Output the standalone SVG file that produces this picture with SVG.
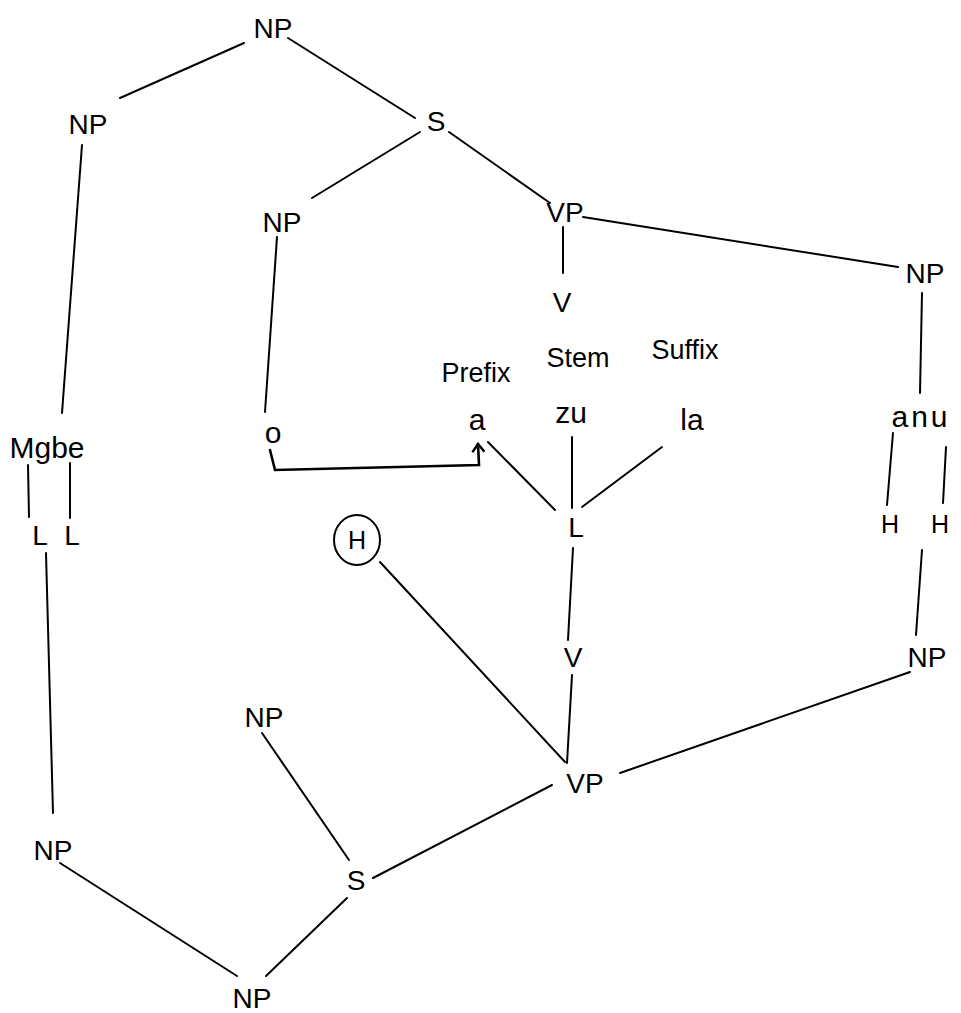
<svg xmlns="http://www.w3.org/2000/svg" width="961" height="1013" viewBox="0 0 961 1013">
<style>
.t{font-family:"Liberation Sans",Arial,sans-serif;font-size:28px;fill:#000;text-anchor:middle}
.m{font-size:25px}
.p{font-size:27px}
.w{font-size:30px}
.e{stroke:#000;stroke-width:2;fill:none;stroke-linecap:round}
.b{stroke-width:2.6}
</style>
<defs>
<marker id="arr" markerWidth="14" markerHeight="14" refX="10" refY="7" orient="auto" markerUnits="userSpaceOnUse">
<path d="M2,1 L10,7 L2,13" fill="none" stroke="#000" stroke-width="2.4"/>
</marker>
</defs>
<rect width="961" height="1013" fill="#fff"/>
<g id="connectors">
<line class="e" x1="244" y1="43" x2="120" y2="98"/>
<line class="e" x1="288" y1="38" x2="415" y2="118"/>
<line class="e" x1="420" y1="132" x2="312" y2="198"/>
<line class="e" x1="449" y1="132" x2="550" y2="203"/>
<line class="e" x1="82" y1="145" x2="62" y2="413"/>
<line class="e" x1="277" y1="237" x2="265" y2="412"/>
<line class="e" x1="563" y1="227" x2="563" y2="273"/>
<line class="e" x1="583" y1="217" x2="898" y2="267"/>
<line class="e" x1="922" y1="293" x2="920" y2="393"/>
<path class="e b" d="M270,450 L275,470 L479,465 L478,444" marker-end="url(#arr)"/>
<line class="e" x1="488" y1="442" x2="555" y2="510"/>
<line class="e" x1="572" y1="437" x2="572" y2="508"/>
<line class="e" x1="662" y1="447" x2="582" y2="507"/>
<line class="e" x1="893" y1="433" x2="887" y2="505"/>
<line class="e" x1="946" y1="447" x2="943" y2="503"/>
<line class="e" x1="28" y1="465" x2="29" y2="517"/>
<line class="e" x1="70" y1="463" x2="70" y2="518"/>
<line class="e" x1="46" y1="553" x2="53" y2="813"/>
<line class="e" x1="573" y1="548" x2="568" y2="640"/>
<line class="e" x1="572" y1="675" x2="567" y2="763"/>
<line class="e" x1="380" y1="562" x2="565" y2="762"/>
<line class="e" x1="620" y1="773" x2="910" y2="672"/>
<line class="e" x1="916" y1="635" x2="922" y2="550"/>
<line class="e" x1="552" y1="785" x2="373" y2="878"/>
<line class="e" x1="349" y1="860" x2="262" y2="733"/>
<line class="e" x1="347" y1="898" x2="266" y2="976"/>
<line class="e" x1="60" y1="863" x2="237" y2="976"/>
</g>
<g id="np-top"><text class="t" x="273" y="38">NP</text></g>
<g id="np-left"><text class="t" x="88" y="134">NP</text></g>
<g id="s-top"><text class="t" x="436" y="131">S</text></g>
<g id="np-mid"><text class="t" x="282" y="232">NP</text></g>
<g id="vp-top"><text class="t" x="565" y="222">VP</text></g>
<g id="v-top"><text class="t" x="562" y="312">V</text></g>
<g id="np-right"><text class="t" x="925" y="283">NP</text></g>
<g id="prefix"><text class="t p" x="476" y="382">Prefix</text></g>
<g id="stem"><text class="t p" x="578" y="367">Stem</text></g>
<g id="suffix"><text class="t p" x="685" y="359">Suffix</text></g>
<g id="a"><text class="t w" x="477" y="430">a</text></g>
<g id="zu"><text class="t w" x="571" y="423">zu</text></g>
<g id="la"><text class="t w" x="692" y="430">la</text></g>
<g id="o"><text class="t w" x="273" y="443">o</text></g>
<g id="mgbe"><text class="t w" x="47" y="458">Mgbe</text></g>
<g id="mgbe-l1"><text class="t" x="40" y="545">L</text></g>
<g id="mgbe-l2"><text class="t" x="72" y="545">L</text></g>
<g id="anu"><text class="t w" x="921" y="427" letter-spacing="3">anu</text></g>
<g id="anu-h1"><text class="t m" x="890" y="533">H</text></g>
<g id="anu-h2"><text class="t m" x="940" y="533">H</text></g>
<g id="l-mid"><text class="t" x="576" y="537">L</text></g>
<g id="h-circled"><ellipse cx="357" cy="540" rx="23" ry="25" class="e"/><text class="t m" x="357" y="549">H</text></g>
<g id="v-mid"><text class="t" x="573" y="667">V</text></g>
<g id="np-right-bottom"><text class="t" x="927" y="667">NP</text></g>
<g id="vp-bottom"><text class="t" x="585" y="793">VP</text></g>
<g id="np-upper"><text class="t" x="264" y="727">NP</text></g>
<g id="s-bottom"><text class="t" x="356" y="890">S</text></g>
<g id="np-bottom-left"><text class="t" x="53" y="860">NP</text></g>
<g id="np-bottom"><text class="t" x="252" y="1008">NP</text></g>
</svg>
